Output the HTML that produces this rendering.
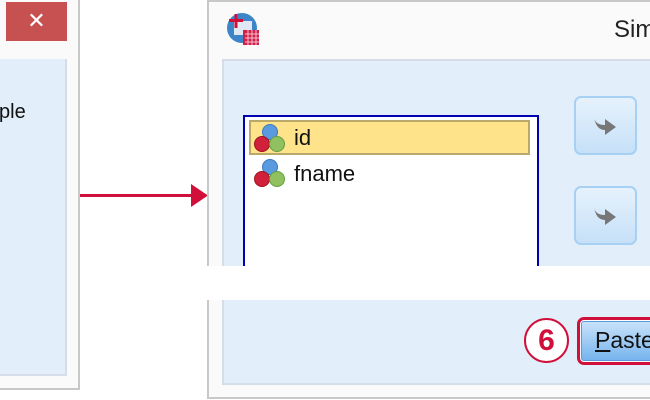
<!DOCTYPE html>
<html><head><style>
body{margin:0;width:650px;height:400px;background:#fff;position:relative;overflow:hidden;font-family:"Liberation Sans",sans-serif}
div{position:absolute;box-sizing:border-box}
</style></head><body>
<!-- left window -->
<div style="left:0;top:0;width:80px;height:390px;background:#fafafa;border-right:2px solid #c8c8c8;border-bottom:2px solid #c8c8c8"></div>
<div style="left:6px;top:2px;width:61px;height:39px;background:#c75050;color:#fff;font-size:22px;text-align:center;line-height:38px">✕</div>
<div style="left:0;top:59px;width:67px;height:317px;background:#e2eefa;border-right:2px solid #d4dde8;border-bottom:2px solid #d4dde8"></div>
<div style="left:-1px;top:101px;font-size:20px;color:#111">ple</div>
<!-- arrow -->
<div style="left:80px;top:194px;width:115px;height:3px;background:#d0103a"></div>
<svg style="position:absolute;left:191px;top:184px" width="17" height="23"><polygon points="0,0 17,11.5 0,23" fill="#d0103a"/></svg>
<!-- right window -->
<div style="left:207px;top:0;width:460px;height:399px;background:#fafafa;border-left:2px solid #c8c8c8;border-top:2px solid #c8c8c8;border-bottom:2px solid #c8c8c8"></div>
<div style="left:222px;top:59px;width:440px;height:326px;background:#e2eefa;border-left:2px solid #d4dde8;border-top:2px solid #d4dde8;border-bottom:2px solid #d4dde8"></div>
<svg style="position:absolute;left:226px;top:12px" width="34" height="34">
<circle cx="16" cy="16" r="15" fill="#3c86c8"/><rect x="8" y="9" width="18" height="14" fill="#dfe8f3"/>
<rect x="17" y="18" width="16" height="15" fill="#d0204a"/><path d="M19 22h14M19 26h14M19 30h14M22 18v15M26 18v15M30 18v15" stroke="#f4c0cc" stroke-width="1"/>
<rect x="3" y="7" width="14" height="3" fill="#d0103a"/><rect x="8.5" y="2" width="3" height="14" fill="#d0103a"/></svg>
<div style="left:614px;top:16px;font-size:24px;color:#222">Sim</div>
<!-- list box -->
<div style="left:243px;top:115px;width:296px;height:170px;background:#fff;border:2px solid #0000b0;border-bottom:none"></div>
<div style="left:249px;top:120px;width:281px;height:35px;background:#ffe38a;border:2px solid #b8a86a"></div>
<svg style="position:absolute;left:252px;top:121px" width="34" height="34"><circle cx="18" cy="11" r="7.5" fill="#5a9be0" stroke="#3a78c0"/><circle cx="10" cy="23" r="7.5" fill="#d0203a" stroke="#a01020"/><circle cx="25" cy="23" r="7.5" fill="#90c060" stroke="#60a040"/></svg>
<svg style="position:absolute;left:252px;top:156px" width="34" height="34"><circle cx="18" cy="11" r="7.5" fill="#5a9be0" stroke="#3a78c0"/><circle cx="10" cy="23" r="7.5" fill="#d0203a" stroke="#a01020"/><circle cx="25" cy="23" r="7.5" fill="#90c060" stroke="#60a040"/></svg>
<div style="left:294px;top:125px;font-size:22px;color:#111">id</div>
<div style="left:294px;top:161px;font-size:22px;color:#111">fname</div>
<!-- buttons -->
<div style="left:574px;top:96px;width:63px;height:59px;border:2px solid #a6d0f4;border-radius:7px;background:linear-gradient(#e6f2fc,#c6e0f8)"></div>
<div style="left:574px;top:186px;width:63px;height:59px;border:2px solid #a6d0f4;border-radius:7px;background:linear-gradient(#e6f2fc,#c6e0f8)"></div>
<svg style="position:absolute;left:591px;top:113px" width="30" height="26"><path d="M3 4 Q4 12 14 12 L14 6 L25 14 L14 22 L14 17 Q5 17 3 4 Z" fill="#777"/></svg>
<svg style="position:absolute;left:591px;top:203px" width="30" height="26"><path d="M3 4 Q4 12 14 12 L14 6 L25 14 L14 22 L14 17 Q5 17 3 4 Z" fill="#777"/></svg>
<!-- white gap -->
<div style="left:200px;top:266px;width:460px;height:34px;background:#fff"></div>
<!-- circle 6 -->
<div style="left:524px;top:318px;width:45px;height:45px;border-radius:50%;border:2px solid #d0103a;background:#fff;color:#d0103a;font-weight:bold;font-size:30px;text-align:center;line-height:41px">6</div>
<div style="left:577px;top:317px;width:90px;height:48px;border:3px solid #d0103a;border-radius:7px;background:#fff"></div>
<div style="left:581px;top:321px;width:82px;height:40px;border-radius:3px;background:linear-gradient(#c8e2fa,#76b4ee);border:1px solid #5a9ad8"></div>
<div style="left:595px;top:327px;font-size:23px;color:#111"><u>P</u>aste</div>
</body></html>
